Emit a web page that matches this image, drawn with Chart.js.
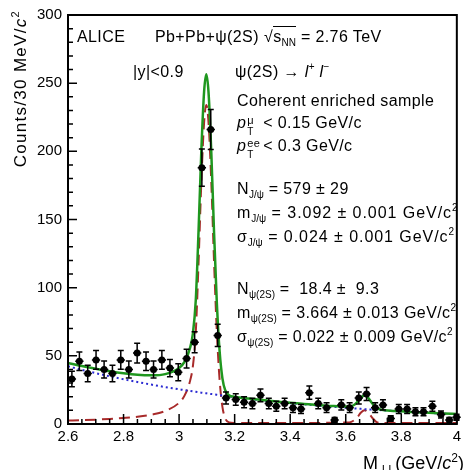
<!DOCTYPE html>
<html lang="en">
<head>
<meta charset="UTF-8">
<title>ALICE Pb+Pb dilepton invariant mass</title>
<script src="https://cdn.jsdelivr.net/npm/chart.js@4.4.0/dist/chart.umd.min.js"></script>
<style>
    body { margin: 0; background: #fff; }
    #wrap {
        position: relative;
        width: 465px;
        height: 470px;
        font-family: "Liberation Sans", Arial, sans-serif;
        color: #000;
    }
    #massChart { position: absolute; left: 0; top: 0; }
    .txt {
        position: absolute;
        white-space: nowrap;
        font-size: 16px;
        line-height: 16px;
        letter-spacing: 0.4px;
    }
    .wide { letter-spacing: 0.95px; }
    .sb { font-size: 10px; position: relative; top: 4px; letter-spacing: 0; }
    .sp { font-size: 10px; position: relative; top: -7px; letter-spacing: 0; }
    .ss { display: inline-block; position: relative; width: 12px; height: 16px; vertical-align: top; }
    .ss .u { position: absolute; left: 1px; top: -3px; font-size: 11px; }
    .ss .d { position: absolute; left: 1px; top: 9px; font-size: 10px; }
    .ovl { border-top: 1.5px solid #000; padding-top: 1px; }
    .ytitle {
        position: absolute;
        left: 5px;
        top: 272px;
        width: 262px;
        text-align: right;
        font-size: 17px;
        line-height: 20px;
        letter-spacing: 1.3px;
        transform-origin: 0 0;
        transform: rotate(-90deg);
        white-space: nowrap;
    }
    .xtitle {
        position: absolute;
        right: 1px;
        top: 449px;
        font-size: 18px;
        line-height: 18px;
        white-space: nowrap;
    }
    .xtitle .lsub { font-size: 12px; position: relative; top: 5px; letter-spacing: 4px; margin-left: 4px; }
</style>
</head>
<body>
<div id="wrap">
    <canvas id="massChart" width="465" height="470"></canvas>

    <div class="txt" style="left:77px;top:29px">ALICE</div>
    <div class="txt" style="left:155px;top:29px">Pb+Pb+ψ(2S)</div>
    <div class="txt" style="left:264px;top:29px">√<span class="ovl">s<span class="sb">NN</span></span> = 2.76 TeV</div>
    <div class="txt" style="left:133px;top:64px">|y|&lt;0.9</div>
    <div class="txt" style="left:235px;top:64px">ψ(2S) → <i>l</i><span class="sp">+</span> <i>l</i><span class="sp">−</span></div>

    <div class="txt" style="left:237px;top:93px">Coherent enriched sample</div>
    <div class="txt" style="left:237px;top:115px"><i>p</i><span class="ss"><span class="u">μ</span><span class="d">T</span></span> &lt; 0.15 GeV/c</div>
    <div class="txt" style="left:237px;top:138px"><i>p</i><span class="ss"><span class="u">ee</span><span class="d">T</span></span> &lt; 0.3 GeV/c</div>

    <div class="txt" style="left:237px;top:181px">N<span class="sb">J/ψ</span> = 579 ± 29</div>
    <div class="txt wide" style="left:237px;top:205px">m<span class="sb">J/ψ</span> = 3.092 ± 0.001 GeV/c<span class="sp">2</span></div>
    <div class="txt wide" style="left:237px;top:229px">σ<span class="sb">J/ψ</span> = 0.024 ± 0.001 GeV/c<span class="sp">2</span></div>

    <div class="txt" style="left:237px;top:281px">N<span class="sb">ψ(2S)</span> = &nbsp;18.4 ± &nbsp;9.3</div>
    <div class="txt" style="left:237px;top:305px">m<span class="sb">ψ(2S)</span> = 3.664 ± 0.013 GeV/c<span class="sp">2</span></div>
    <div class="txt" style="left:237px;top:329px">σ<span class="sb">ψ(2S)</span> = 0.022 ± 0.009 GeV/c<span class="sp">2</span></div>

    <div class="ytitle">Counts/30 MeV/<i>c</i><sup style="font-size:11px">2</sup></div>
    <div class="xtitle">M<span class="lsub">ll</span>(GeV/<i>c</i><sup style="font-size:12px">2</sup>)</div>
</div>

<script>
    // measured spectrum: bin centres (GeV/c^2), counts per 30 MeV/c^2, stat. errors
    const binCentres = [2.614, 2.641, 2.671, 2.701, 2.730, 2.760, 2.790, 2.819, 2.849, 2.881,
                        2.908, 2.938, 2.967, 2.997, 3.027, 3.056, 3.082, 3.114, 3.139, 3.169,
                        3.204, 3.234, 3.264, 3.293, 3.323, 3.350, 3.380, 3.410, 3.439, 3.469,
                        3.501, 3.531, 3.560, 3.584, 3.614, 3.647, 3.675, 3.706, 3.734, 3.762,
                        3.791, 3.821, 3.851, 3.880, 3.912, 3.943, 3.973, 3.999];
    const counts = [33, 46, 37, 47, 40, 37, 47, 40, 52, 46,
                    40, 47, 41, 38, 48, 60, 188, 216, 65, 19,
                    18, 16, 15, 21, 15, 13, 15, 12, 11, 23,
                    15, 12, 3, 14, 12, 19, 22, 12, 14, 4,
                    11, 11, 9, 9, 13, 7, 3, 5];
    const countErrors = [5.7, 6.8, 6.1, 6.9, 6.3, 6.1, 6.9, 6.3, 7.2, 6.8,
                         6.3, 6.9, 6.4, 6.2, 6.9, 7.7, 13.7, 14.7, 8.1, 4.4,
                         4.2, 4.0, 3.9, 4.6, 3.9, 3.6, 3.9, 3.5, 3.3, 4.8,
                         3.9, 3.5, 1.7, 3.7, 3.5, 4.4, 4.7, 3.5, 3.7, 2.0,
                         3.3, 3.3, 3.0, 3.0, 3.6, 2.6, 1.7, 2.2];
    const binHalfWidth = 0.015;

    // fit curves sampled along the mass axis
    const curveMass = [2.6, 2.65, 2.7, 2.75, 2.8, 2.85, 2.9, 2.95, 3.0,
                       3.02, 3.04, 3.05, 3.06, 3.07, 3.08, 3.09,
                       3.098, 3.106, 3.116, 3.126, 3.136, 3.146, 3.156, 3.166,
                       3.18, 3.2,
                       3.25, 3.3, 3.35, 3.4, 3.45, 3.5, 3.55, 3.6,
                       3.62, 3.64, 3.655, 3.668, 3.68, 3.695, 3.71, 3.73,
                       3.76, 3.8, 3.85, 3.9, 3.95, 4.0];
    const totalFit = [44.8, 42.5, 40.5, 38.7, 37.2, 36.1, 35.7, 36.6, 41.1,
                      45.8, 56.2, 66.9, 90.6, 141.3, 200.0, 243.7,
                      256.5, 243.2, 199.0, 139.7, 88.4, 53.1, 33.5, 24.8,
                      21.0, 20.0,
                      18.7, 17.6, 16.5, 15.5, 14.7, 13.9, 13.2, 12.8,
                      13.0, 15.8, 19.5, 20.9, 19.3, 15.2, 11.9, 10.4,
                      9.8, 9.3, 8.7, 8.2, 7.7, 7.3];
    const signalFit = [2.5, 2.8, 3.2, 3.7, 4.4, 5.3, 6.8, 9.5, 15.6,
                       21, 32, 43, 67, 118, 177, 221,
                       234, 221, 177, 118, 67, 32, 12.6, 4.2,
                       1.2, 0.8,
                       0.7, 0.7, 0.7, 0.7, 0.7, 0.8, 0.9, 1.1,
                       1.6, 4.5, 8.4, 10.0, 8.6, 4.7, 1.6, 0.8,
                       0.7, 0.7, 0.7, 0.7, 0.7, 0.7];
    const backgroundFit = [42.3, 39.7, 37.3, 35.0, 32.8, 30.8, 28.9, 27.1, 25.5,
                           24.8, 24.2, 23.9, 23.6, 23.3, 23.0, 22.7,
                           22.5, 22.2, 22.0, 21.7, 21.4, 21.1, 20.9, 20.6,
                           20.2, 19.7,
                           18.5, 17.4, 16.3, 15.3, 14.4, 13.5, 12.7, 11.9,
                           11.6, 11.3, 11.1, 10.9, 10.7, 10.5, 10.3, 10.1,
                           9.7, 9.2, 8.6, 8.1, 7.6, 7.2];

    const massRange = [2.6, 4.0];
    const countRange = [0, 300];

    const toPoints = (xs, ys) => xs.map((x, i) => ({ x: x, y: ys[i] }));
    const isMajorMass = v => Math.abs(v * 5 - Math.round(v * 5)) < 1e-6;
    const isMajorCount = v => Math.abs(v / 50 - Math.round(v / 50)) < 1e-6;

    // vertical stat. errors with caps plus horizontal bin-width bars
    const errorBars = {
        id: 'errorBars',
        afterDatasetsDraw(chart) {
            const { ctx, scales: { x, y } } = chart;
            ctx.save();
            ctx.strokeStyle = '#000';
            ctx.lineWidth = 1.5;
            binCentres.forEach((m, i) => {
                const px = x.getPixelForValue(m);
                const py = y.getPixelForValue(counts[i]);
                const lo = y.getPixelForValue(Math.max(0, counts[i] - countErrors[i]));
                const hi = y.getPixelForValue(counts[i] + countErrors[i]);
                ctx.beginPath();
                ctx.moveTo(px, lo); ctx.lineTo(px, hi);
                ctx.moveTo(px - 3, lo); ctx.lineTo(px + 3, lo);
                ctx.moveTo(px - 3, hi); ctx.lineTo(px + 3, hi);
                ctx.moveTo(x.getPixelForValue(m - binHalfWidth), py);
                ctx.lineTo(x.getPixelForValue(m + binHalfWidth), py);
                ctx.stroke();
            });
            ctx.restore();
        }
    };

    // frame and inward tick marks
    const frameTicks = {
        id: 'frameTicks',
        afterDraw(chart) {
            const { ctx, chartArea: a, scales: { x, y } } = chart;
            ctx.save();
            ctx.strokeStyle = '#000';
            ctx.lineWidth = 2;
            ctx.strokeRect(a.left, a.top, a.right - a.left, a.bottom - a.top);
            ctx.lineWidth = 1.5;
            ctx.beginPath();
            x.ticks.forEach(t => {
                const px = x.getPixelForValue(t.value);
                const len = isMajorMass(t.value) ? 10 : 5;
                ctx.moveTo(px, a.bottom);
                ctx.lineTo(px, a.bottom - len);
            });
            y.ticks.forEach(t => {
                const py = y.getPixelForValue(t.value);
                const len = isMajorCount(t.value) ? 9 : 5;
                ctx.moveTo(a.left, py);
                ctx.lineTo(a.left + len, py);
            });
            ctx.stroke();
            ctx.restore();
        }
    };

    Chart.defaults.font.family = '"Liberation Sans", Arial, sans-serif';
    Chart.defaults.font.size = 15;
    Chart.defaults.color = '#000';

    new Chart(document.getElementById('massChart'), {
        type: 'scatter',
        data: {
            datasets: [
                {
                    label: 'data',
                    data: toPoints(binCentres, counts),
                    showLine: false,
                    pointRadius: 3.5,
                    pointBackgroundColor: '#000',
                    pointBorderColor: '#000',
                    pointBorderWidth: 0,
                    clip: false,
                    order: 0
                },
                {
                    label: 'total fit',
                    data: toPoints(curveMass, totalFit),
                    showLine: true,
                    pointRadius: 0,
                    borderColor: '#1f971f',
                    borderWidth: 2.5,
                    cubicInterpolationMode: 'monotone',
                    order: 1
                },
                {
                    label: 'background',
                    data: toPoints(curveMass, backgroundFit),
                    showLine: true,
                    pointRadius: 0,
                    borderColor: '#2a2ad2',
                    borderWidth: 2,
                    borderDash: [2, 3],
                    cubicInterpolationMode: 'monotone',
                    order: 2
                },
                {
                    label: 'signal',
                    data: toPoints(curveMass, signalFit),
                    showLine: true,
                    pointRadius: 0,
                    borderColor: '#a82a2a',
                    borderWidth: 2,
                    borderDash: [11, 6],
                    cubicInterpolationMode: 'monotone',
                    order: 3
                }
            ]
        },
        options: {
            responsive: false,
            animation: false,
            layout: { padding: { top: 14, right: 3, left: 0, bottom: 0 } },
            plugins: {
                legend: { display: false },
                tooltip: { enabled: false }
            },
            scales: {
                x: {
                    type: 'linear',
                    min: massRange[0],
                    max: massRange[1],
                    afterFit: s => { s.height = 46; },
                    grid: { display: false, drawTicks: false },
                    border: { display: false },
                    ticks: {
                        stepSize: 0.05,
                        autoSkip: false,
                        maxRotation: 0,
                        padding: 4,
                        callback: v => isMajorMass(v) ? String(Number(v.toFixed(2))) : ''
                    }
                },
                y: {
                    type: 'linear',
                    min: countRange[0],
                    max: countRange[1],
                    afterFit: s => { s.width = 68; },
                    grid: { display: false, drawTicks: false },
                    border: { display: false },
                    ticks: {
                        stepSize: 10,
                        autoSkip: false,
                        padding: 6,
                        callback: v => isMajorCount(v) ? String(v) : ''
                    }
                }
            }
        },
        plugins: [errorBars, frameTicks]
    });
</script>
</body>
</html>
